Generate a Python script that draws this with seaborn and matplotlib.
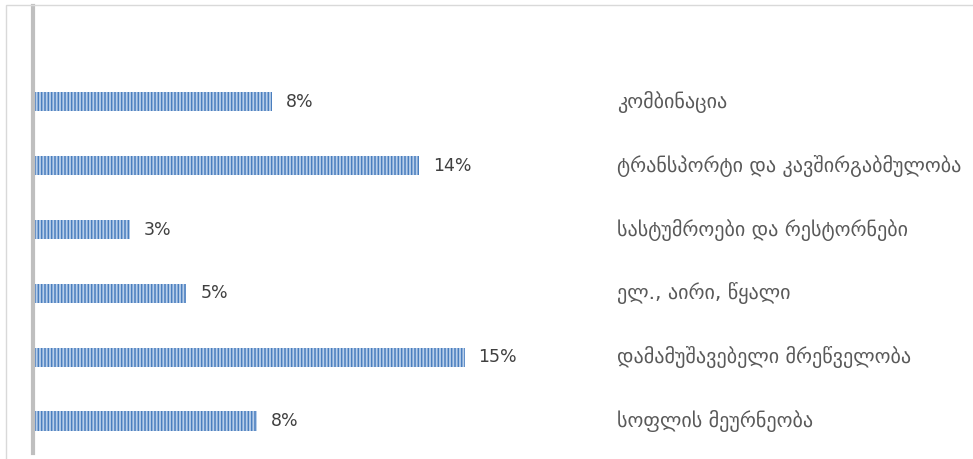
import numpy as np
import pandas as pd
import matplotlib.pyplot as plt
import seaborn as sns

# sectors, top to bottom
categories = [
    "კომბინაცია",
    "ტრანსპორტი და კავშირგაბმულობა",
    "სასტუმროები და რესტორნები",
    "ელ., აირი, წყალი",
    "დამამუშავებელი მრეწველობა",
    "სოფლის მეურნეობა",
]
values = [8.4, 13.6, 3.4, 5.4, 15.2, 7.9]
labels = [f"{v:.0f}%" for v in values]

df = pd.DataFrame({"sector": categories, "share": values})

sns.set_style("white")
plt.rcParams["font.family"] = ["DejaVu Sans"]
plt.rcParams["hatch.linewidth"] = 1.1

fig = plt.figure(figsize=(9.73, 4.59), dpi=100)
ax = fig.add_axes([33 / 973, 6 / 459, 940 / 973, 447 / 459])

sns.barplot(data=df, x="share", y="sector", orient="h", width=0.3,
            color="#b9cfea", ax=ax)

for p in ax.patches:
    p.set_facecolor("#b9cfea")
    p.set_edgecolor("#4a7ebe")
    p.set_hatch("|||||")
    p.set_linewidth(0)

ax.bar_label(ax.containers[0], labels=labels, padding=10,
             fontsize=12.5, color="#404040")

for i, name in enumerate(categories):
    ax.text(0.621, i, name, transform=ax.get_yaxis_transform(),
            ha="left", va="center", fontsize=14.5, color="#595959")

ax.set_xlim(0, 940 / 28.4)
ax.set_ylim(5.5, -1.5)
ax.set_xlabel("")
ax.set_ylabel("")
ax.set_xticks([])
ax.set_yticks([])
for s in ["top", "right", "bottom"]:
    ax.spines[s].set_visible(False)
ax.spines["left"].set_color("#bfbfbf")
ax.spines["left"].set_linewidth(3)

frame = plt.Rectangle((6 / 973, -0.02), 1.0, 1 - 5 / 459 + 0.02,
                      transform=fig.transFigure, fill=False,
                      edgecolor="#d9d9d9", linewidth=1)
fig.patches.append(frame)

fig.savefig("out.png", dpi=100)
